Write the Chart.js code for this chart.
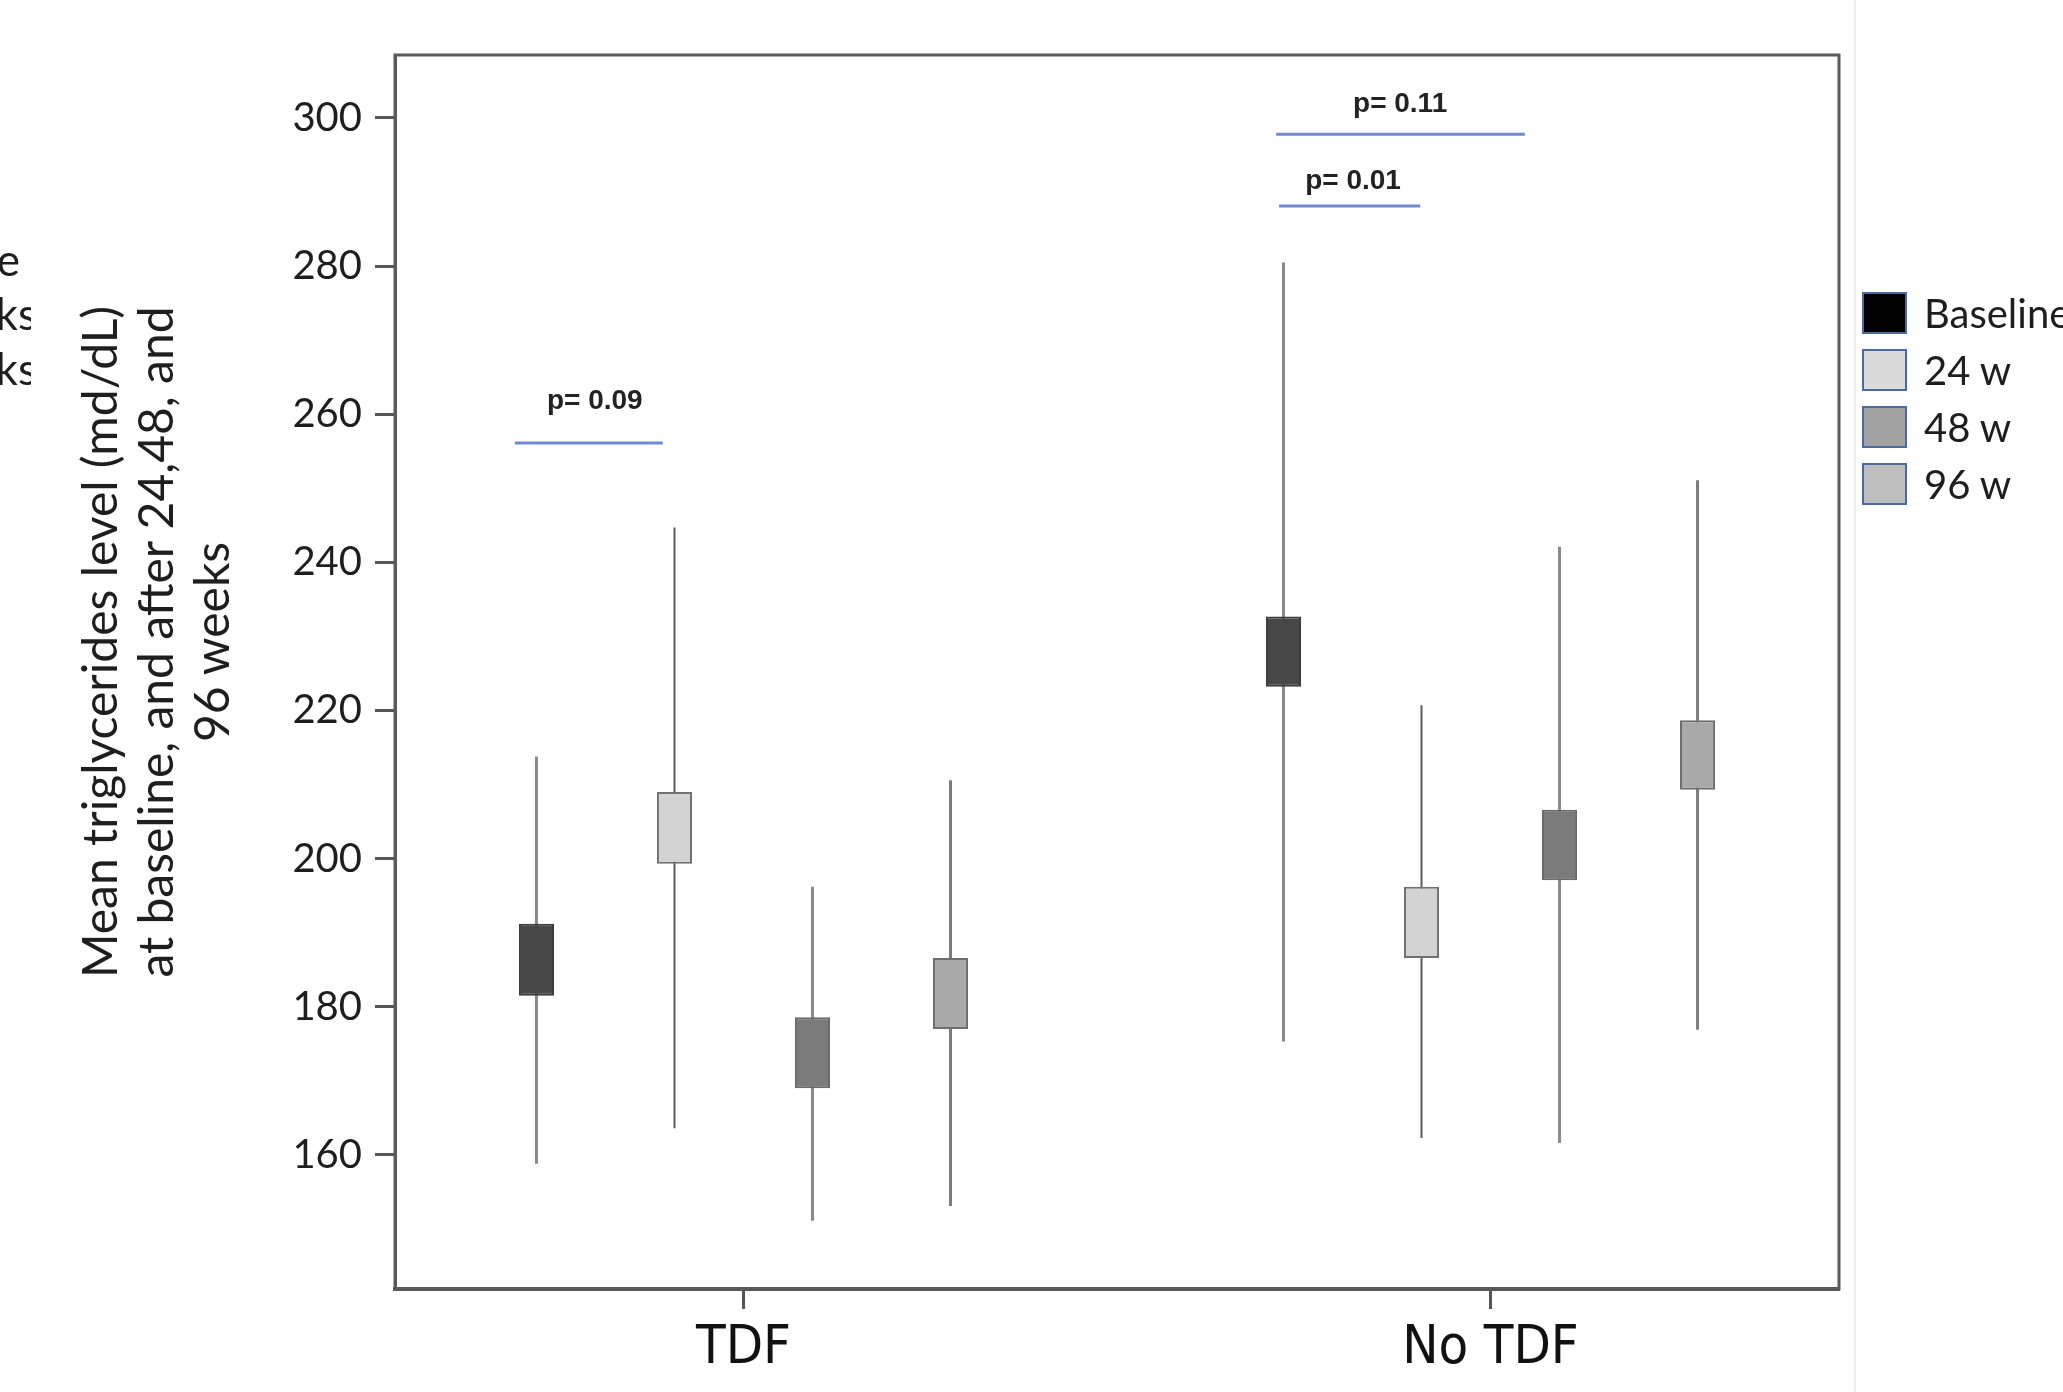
<!DOCTYPE html>
<html>
<head>
<meta charset="utf-8">
<script src="https://cdn.jsdelivr.net/npm/chart.js@4.4.1/dist/chart.umd.min.js"></script>
<style>
    html, body { margin: 0; padding: 0; background: #fff; overflow: hidden; }
    #wrap { position: relative; width: 2063px; height: 1392px; overflow: hidden; background: #fff; }
    #chart { position: absolute; left: 0; top: 0; }
    .txt { font-family: Lato, 'Open Sans', sans-serif; color: #1e1e1e; }
    #ytitle {
        position: absolute; left: -295px; top: 558px; width: 900px; height: 168px;
        font-size: 48px; line-height: 56px; text-align: center; white-space: nowrap;
        transform: rotate(-90deg); transform-origin: 50% 50%;
    }
    #frag { position: absolute; left: 0; top: 232px; width: 31px; height: 170px; overflow: hidden; }
    #frag div { position: absolute; width: 400px; text-align: right; font-size: 44px; line-height: 54px; white-space: nowrap; }
    #legend { position: absolute; left: 1862px; top: 292px; }
    .item { position: relative; height: 57px; white-space: nowrap; }
    .sw { position: absolute; left: 0; top: 0; width: 41px; height: 38px; border: 2.5px solid #4d6aa0; }
    .lbl { position: absolute; left: 62px; top: -5px; font-size: 40px; line-height: 52px; }
    #rule { position: absolute; left: 1854px; top: 0; width: 2px; height: 1392px; background: #ececec; }
</style>
</head>
<body>
<div id="wrap">
    <canvas id="chart" width="2063" height="1392"></canvas>
    <div id="rule"></div>
    <div id="frag" class="txt">
        <div style="right: 11px; top: 0px;">Baseline</div>
        <div style="right: -6px; top: 54px;">24 weeks</div>
        <div style="right: -6px; top: 109px;">96 weeks</div>
    </div>
    <div id="ytitle" class="txt">Mean triglycerides level (md/dL)<br>at baseline, and after 24,48, and<br>96 weeks</div>
    <div id="legend" class="txt"></div>
</div>
<script>
// categories and series
const categories = ['TDF', 'No TDF'];
const seriesNames = ['Baseline', '24 w', '48 w', '96 w'];

// box = [low, high] of the box, whisker = [low, high] of the line, per category
const baselineBox = [[181.5, 191.2], [223.2, 232.7]];
const baselineWhisker = [[158.8, 213.8], [175.3, 280.5]];
const w24Box = [[199.3, 209.0], [186.6, 196.2]];
const w24Whisker = [[163.6, 244.7], [162.3, 220.7]];
const w48Box = [[169.0, 178.6], [197.1, 206.6]];
const w48Whisker = [[151.1, 196.2], [161.6, 242.1]];
const w96Box = [[177.0, 186.6], [209.3, 218.7]];
const w96Whisker = [[153.1, 210.6], [176.9, 251.1]];

const yTicks = [160, 180, 200, 220, 240, 260, 280, 300];

// p-value annotations (data units)
const pLabels = ['p= 0.09', 'p= 0.01', 'p= 0.11'];
const pLineY = [256.1, 288.1, 297.8];
const pLineFrom = [-0.306, 0.717, 0.713];
const pLineTo = [-0.108, 0.906, 1.046];
const pTextX = [-0.199, 0.816, 0.879];
const pTextY = [261.8, 291.4, 301.8];

const boxes = [baselineBox, w24Box, w48Box, w96Box];
const whiskers = [baselineWhisker, w24Whisker, w48Whisker, w96Whisker];
const boxFill = ['#474747', '#d3d3d3', '#7b7b7b', '#a9a9a9'];
const boxEdge = ['#3c3c3c', '#707070', '#6a6a6a', '#6e6e6e'];
const whiskerColor = ['#8a8a8a', '#5c5c5c', '#8a8a8a', '#7c7c7c'];
const whiskerWidth = [3, 2, 3, 3];
const legendFill = ['#000000', '#dadada', '#a3a3a3', '#bfbfbf'];

const CAT_PCT = 0.739;
const BAR_PCT = 0.254;

const datasets = [];
boxes.forEach((b, s) => {
    datasets.push({
        type: 'bar',
        label: seriesNames[s],
        data: categories.map((c, i) => ({ x: i, y: b[i] })),
        backgroundColor: boxFill[s],
        borderColor: boxEdge[s],
        borderWidth: 2,
        borderSkipped: false,
        stack: 's' + s,
        categoryPercentage: CAT_PCT,
        barPercentage: BAR_PCT
    });
});
whiskers.forEach((w, s) => {
    datasets.push({
        type: 'bar',
        label: seriesNames[s] + ' range',
        data: categories.map((c, i) => ({ x: i, y: w[i] })),
        backgroundColor: whiskerColor[s],
        borderWidth: 0,
        maxBarThickness: whiskerWidth[s],
        stack: 's' + s,
        categoryPercentage: CAT_PCT,
        barPercentage: BAR_PCT
    });
});
pLabels.forEach((t, k) => {
    datasets.push({
        type: 'line',
        label: t,
        data: [{ x: pLineFrom[k], y: pLineY[k] }, { x: pLineTo[k], y: pLineY[k] }],
        borderColor: '#7189cf',
        borderWidth: 3,
        pointRadius: 0,
        fill: false
    });
});

// frame round the plot area + p-value texts
const framePlugin = {
    id: 'frame',
    afterDraw(chart) {
        const { ctx, chartArea: a } = chart;
        ctx.save();
        ctx.strokeStyle = '#5a5a5a';
        ctx.lineWidth = 3;
        ctx.strokeRect(a.left, a.top, a.right - a.left, a.bottom - a.top);
        ctx.restore();
    }
};
const pTextPlugin = {
    id: 'pText',
    afterDatasetsDraw(chart) {
        const { ctx } = chart;
        const xs = chart.scales.x, ys = chart.scales.y;
        ctx.save();
        ctx.font = 'bold 28px "Liberation Sans", Arial, sans-serif';
        ctx.fillStyle = '#222';
        ctx.textAlign = 'center';
        ctx.textBaseline = 'middle';
        pLabels.forEach((t, k) => {
            ctx.fillText(t, xs.getPixelForValue(pTextX[k]), ys.getPixelForValue(pTextY[k]));
        });
        ctx.restore();
    }
};

new Chart(document.getElementById('chart'), {
    type: 'bar',
    data: { datasets: datasets },
    options: {
        responsive: false,
        animation: false,
        layout: { padding: { top: 55, right: 224, bottom: 0, left: 0 } },
        plugins: { legend: { display: false }, tooltip: { enabled: false } },
        scales: {
            x: {
                type: 'linear',
                offset: false,
                min: -0.4665,
                max: 1.4665,
                afterBuildTicks: (s) => { s.ticks = categories.map((c, i) => ({ value: i })); },
                afterFit: (s) => { s.height = 103; },
                ticks: {
                    callback: (v) => categories[Math.round(v)],
                    font: { family: "'Liberation Sans Narrow', 'DejaVu Sans Condensed', sans-serif", size: 54 },
                    color: '#111',
                    padding: 8,
                    maxRotation: 0,
                    autoSkip: false
                },
                grid: { offset: false, drawOnChartArea: false, tickLength: 20, tickColor: '#555', tickWidth: 3 },
                border: { color: '#555', width: 4 }
            },
            y: {
                type: 'linear',
                stacked: false,
                min: 141.9,
                max: 308.5,
                afterBuildTicks: (s) => { s.ticks = yTicks.map(v => ({ value: v })); },
                afterFit: (s) => { s.width = 395; },
                ticks: {
                    font: { family: "Lato, 'Open Sans', sans-serif", size: 40 },
                    color: '#1e1e1e',
                    padding: 13
                },
                grid: { drawOnChartArea: false, tickLength: 20, tickColor: '#555', tickWidth: 3 },
                border: { color: '#555', width: 3 }
            }
        }
    },
    plugins: [framePlugin, pTextPlugin]
});

// legend
const legend = document.getElementById('legend');
seriesNames.forEach((n, s) => {
    const row = document.createElement('div');
    row.className = 'item';
    row.innerHTML = '<div class="sw" style="background:' + legendFill[s] + '"></div><div class="lbl">' + n + '</div>';
    legend.appendChild(row);
});
</script>
</body>
</html>
